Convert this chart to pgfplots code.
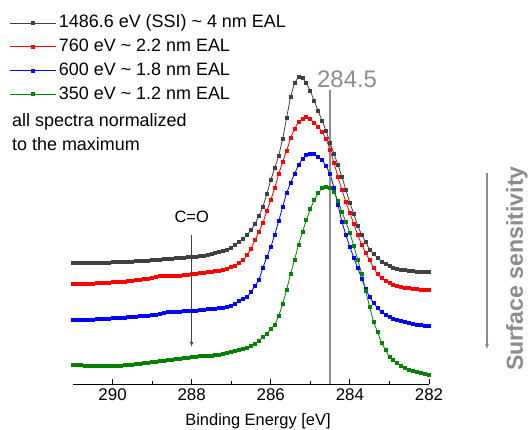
\documentclass[border=0pt]{standalone}
\usepackage{fontspec}
\setmainfont{Liberation Sans}
\usepackage{pgfplots}
\usepackage{pgfplotstable}
\pgfplotsset{compat=1.18}
\usetikzlibrary{arrows.meta}

\definecolor{cK}{RGB}{64,64,64}
\definecolor{cR}{RGB}{255,0,0}
\definecolor{cB}{RGB}{0,0,255}
\definecolor{cG}{RGB}{0,128,0}
\definecolor{lgray}{RGB}{140,140,140}

% C 1s spectra, offset, normalized (arb. units)
\pgfplotstableread{
x     K     R     B     G
282.0 112   94    58    9
282.1 112   94    58.5  10
282.2 112   94.5  59    11
282.3 112.5 95    59.5  12
282.4 113   95.5  60    13
282.5 113   96    61    14.5
282.6 114   96.5  62    16
282.7 114   97    63    18.5
282.8 115   98    64    21
282.9 116   99    65.5  24
283.0 118   101   67    27
283.1 120   103   69    34
283.2 122.5 106   72    41
283.3 126   110   76    52
283.4 130   116   81    62
283.5 134   124   87    77
283.6 142   131   95    93
283.7 149   139   105   110
283.8 158   149   116   124
283.9 170   160   126   138
284.0 181   171   137   151
284.1 194   182   149   162
284.2 207   194   162   172
284.3 219   207   179   183
284.4 230   221   196   192
284.5 241   234   210   196
284.6 253   245   218   197
284.7 263   252   224   196
284.8 273   257   227   191
284.9 283   261   230   184
285.0 293   265   230   175
285.1 301   267   229   164
285.2 306   265   225   152
285.3 307   262   219   139
285.4 301   255   210   124
285.5 287   246   201   110
285.6 266   233   191   94
285.7 245   222   177   80
285.8 228   210   163   68
285.9 216   196   149   59
286.0 204   184   137   55
286.1 190   173   127   50
286.2 177   161   116   47
286.3 168   152   104   43
286.4 160   144   98    40
286.5 154   135   92    38
286.6 149   129   87    36
286.7 145   124   85    35
286.8 142   121   83    34
286.9 139   118   80    33
287.0 136   117   78    32
287.1 134.5 115.5 77    31
287.2 133   114   76.5  30
287.3 132   113.5 76    29.5
287.4 131   113   75.5  29
287.5 130   112.5 75    28.5
287.6 129   112   75    28.5
287.7 128.5 111.5 74.5  28
287.8 128   111   74    28
287.9 127.5 110.5 73.5  27.5
288.0 127   110   73    27
288.1 127   109.5 73    26.5
288.2 126.5 109   73    26
288.3 126   108.5 72.5  25.5
288.4 126   108   72.5  25
288.5 125.5 108   72    24.5
288.6 125   108   72    24
288.7 125   108   71    23.5
288.8 124.5 108   70    23
288.9 124   107   69.5  22.5
289.0 124   106   69    22
289.1 123.5 105.5 68.5  21.5
289.2 123.5 105   68    21
289.3 123   104.5 68    20.5
289.4 123   104   67.5  20
289.5 122.5 103.5 67    19.5
289.6 122.5 103   67    19
289.7 122   102.5 66.5  19
289.8 122   102   66.5  18.5
289.9 122   102   66    18
290.0 122   102   66    18
290.1 121.5 101.5 65.5  18
290.2 121.5 101.5 65.5  18
290.3 121   101   65    18
290.4 121   101   65    18
290.5 121   100.5 64.5  18
290.6 121   100.5 64.5  18.5
290.7 121   100   64    18.5
290.8 121   100   64    19
290.9 121   100   64    19
291.0 121   100   64    19
}\spectra

\begin{document}
\begin{tikzpicture}
\useasboundingbox (-73bp,-46bp) rectangle (458bp,384bp);
\begin{axis}[
  scale only axis,
  width=356bp, height=320bp,
  xmin=282, xmax=291, ymin=0, ymax=320,
  x dir=reverse,
  axis x line*=bottom, axis y line=none,
  xtick={282,284,...,290}, minor x tick num=1,
  tick align=inside, major tick length=5bp, minor tick length=3bp,
  every tick/.style={black, line width=0.8bp},
  axis line style={line width=0.8bp},
  /pgf/number format/assume math mode=true,
  xticklabel style={font=\fontsize{17}{20}\selectfont, anchor=base, yshift=-16bp},
  xlabel={Binding Energy [eV]},
  xlabel style={font=\fontsize{16.5}{19}\selectfont, at={(axis description cs:0.5197,0)}, anchor=base, yshift=-41bp},
  clip=false,
  legend cell align=left,
  legend style={draw=none, fill=none, at={(axis description cs:-0.1798,1.1652)}, anchor=north west,
    inner sep=0pt, row sep=0pt, column sep=0pt,
    font=\fontsize{18}{21}\selectfont,
    nodes={inner xsep=3bp, inner ysep=3.1bp, text height=13.5bp, text depth=4bp}},
  legend image code/.code={\draw[mark repeat=2,mark phase=2] plot coordinates {(0bp,0bp)(23bp,0bp)(46bp,0bp)};},
  every axis plot/.append style={mark=square*, mark size=1.5bp, line width=0.8bp},
]
\addplot[color=cK, mark options={fill=cK}] table[x=x, y=K] {\spectra};
\addlegendentry{1486.6 eV (SSI) \textasciitilde{} 4 nm EAL}
\addplot[color=cR, mark options={fill=cR}] table[x=x, y=R] {\spectra};
\addlegendentry{760 eV \textasciitilde{} 2.2 nm EAL}
\addplot[color=cB, mark options={fill=cB}] table[x=x, y=B] {\spectra};
\addlegendentry{600 eV \textasciitilde{} 1.8 nm EAL}
\addplot[color=cG, mark options={fill=cG}] table[x=x, y=G] {\spectra};
\addlegendentry{350 eV \textasciitilde{} 1.2 nm EAL}

\draw[lgray, line width=1.3bp] (axis cs:284.5,0) -- (axis cs:284.5,294);
\node[lgray, font=\fontsize{24}{28}\selectfont] at (axis cs:284.07,305) {284.5};
\node[font=\fontsize{16.5}{19}\selectfont] at (axis cs:288,167) {C=O};
\draw[cK, line width=0.8bp, -{Latex[length=5bp,width=3.5bp]}] (axis cs:288,149) -- (axis cs:288,37);
\end{axis}

\node[anchor=base west, inner sep=0pt, font=\fontsize{18}{21}\selectfont] at (-61bp,257bp) {all spectra normalized};
\node[anchor=base west, inner sep=0pt, font=\fontsize{18}{21}\selectfont] at (-61bp,233bp) {to the maximum};
\draw[lgray, line width=1.3bp, -{Latex[length=6bp,width=4bp]}] (414bp,211bp) -- (414bp,34bp);
\node[lgray, rotate=90, font=\bfseries\fontsize{23.2}{27}\selectfont] at (444bp,115.5bp) {Surface sensitivity};
\end{tikzpicture}
\end{document}
